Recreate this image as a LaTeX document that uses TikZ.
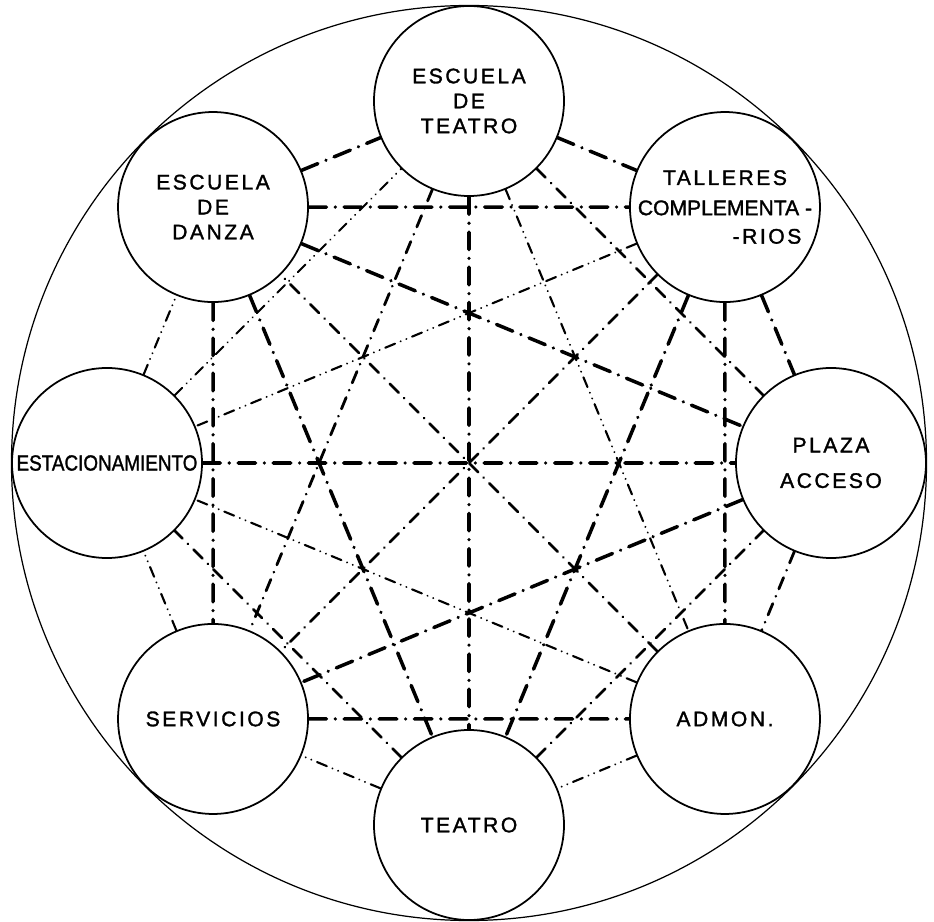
\documentclass[tikz,border=0pt]{standalone}
\usepackage{fontspec}
\setmainfont{Liberation Sans}
\newfontfamily\lettering[LetterSpace=12,FakeBold=1.5]{Liberation Sans}
\newfontfamily\plainsans[FakeBold=1.5]{Liberation Sans}
\newcommand\spaced{\lettering\fontsize{12}{14.2}\selectfont}
\usepackage{tikz}
\usetikzlibrary{positioning}

\begin{document}
\begin{tikzpicture}[
local/.style={circle,draw,line width=1pt,minimum size=3.8cm,inner sep=0pt,align=center,font=\spaced},
strong/.style={line width=2pt,line cap=round,dash pattern=on 10pt off 5pt on 0.01pt off 5pt},
medium/.style={line width=1.6pt,line cap=round,dash pattern=on 7pt off 4.5pt on 0.01pt off 4.5pt},
weak/.style={line width=1.2pt,line cap=round,dash pattern=on 6pt off 3.5pt on 0.01pt off 3.5pt on 0.01pt off 3.5pt}]
\useasboundingbox (-9.38,-9.16) rectangle (9.30,9.26);
\draw[line width=0.7pt] (0,0) circle (9.15);
\node[local] (et) at (90:7.24) {ESCUELA\\DE\\TEATRO};
\node[local] (tc) at (45:7.24) {TALLERES\\[3pt]{\plainsans COMPLEMENTA -}\\[2pt]\hspace*{1.68cm}-RIOS};
\node[local] (pa) at (0:7.24) {PLAZA\\[6pt]ACCESO};
\node[local] (ad) at (-45:7.24) {ADMON.};
\node[local] (te) at (-90:7.24) {TEATRO};
\node[local] (se) at (-135:7.24) {SERVICIOS};
\node[local] (es) at (180:7.24) {\plainsans\fontsize{12.5}{14}\selectfont\scalebox{0.86}[1]{ESTACIONAMIENTO}};
\node[local] (ed) at (135:7.24) {ESCUELA\\DE\\DANZA};
\draw[strong] (ed)--(et) (et)--(tc) (tc)--(pa) (ed)--(tc) (tc)--(ad) (ed)--(se)
(ed)--(pa) (pa)--(se) (ed)--(te) (tc)--(te) (et)--(te) (es)--(pa) (se)--(ad);
\draw[medium] (pa)--(ad) (et)--(se) (et)--(pa) (te)--(pa) (te)--(es) (tc)--(se) (ad)--(ed);
\draw[weak] (ad)--(te) (te)--(se) (se)--(es) (es)--(ed) (et)--(ad) (tc)--(es)
(ad)--(es) (es)--(et);
\end{tikzpicture}
\end{document}
